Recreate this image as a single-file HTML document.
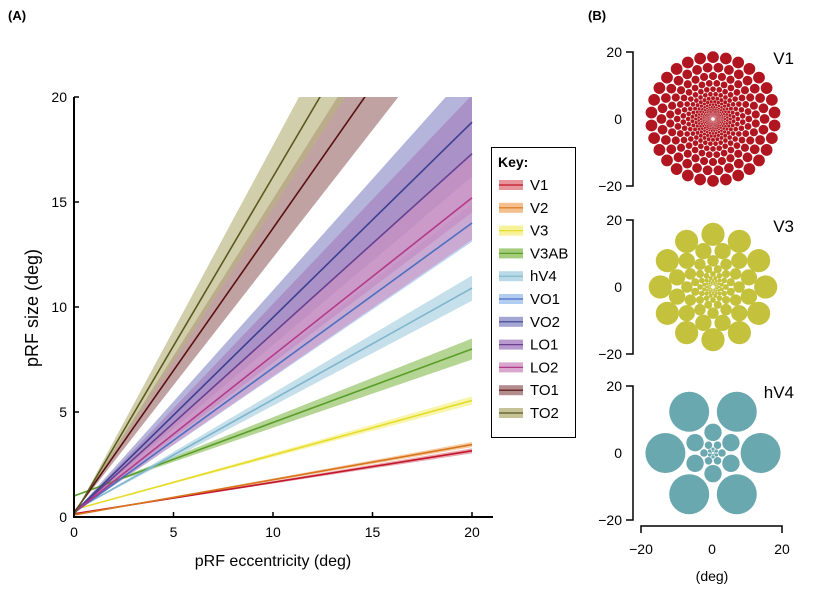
<!DOCTYPE html>
<html><head><meta charset="utf-8"><style>
body{margin:0;background:#fff;}
svg{display:block;font-family:"Liberation Sans","DejaVu Sans",sans-serif;}
</style></head><body>
<svg id="fig" width="818" height="600" viewBox="0 0 818 600">
<text x="8" y="20" font-size="13" font-weight="bold">(A)</text>
<text x="588" y="20" font-size="13" font-weight="bold">(B)</text>
<g id="bands"></g>
<g id="lines"></g>
<g id="axes"></g>
<g id="legend"></g>
<g id="mosaic"></g>
</svg>
<script>
const categories=["V1","V2","V3","V3AB","hV4","VO1","VO2","LO1","LO2","TO1","TO2"];
const intercepts=[0.15,0.1,0.35,1.0,0.3,0.2,0.2,0.2,0.2,0.2,0.1];
const valuesAt20=[3.15,3.45,5.55,8.0,10.9,14.0,18.8,17.3,15.2,27.3,32.3];
const bandHalfAt20=[0.12,0.12,0.2,0.5,0.6,0.9,2.6,2.8,2.0,2.8,3.0];
const lineColors=["#c0172a","#d9741e","#e5dc2c","#5a9e2a","#7fb5cc","#4b70c0","#3d3f8f","#6a3f8f","#b33a8a","#5a1010","#5a5a20"];
const bandColors=["#e07a85","#f0b070","#f4ef80","#8dbf5a","#a8d0e0","#9ec0ee","#8e8ec8","#a57fc0","#d090c0","#a07070","#b8b480"];
const xTicks=[0,5,10,15,20];
const yTicks=[0,5,10,15,20];
const NS="http://www.w3.org/2000/svg";
const X0=74,X1=472,Y0=517,Y1=97;
function xs(v){return X0+(X1-X0)*v/20;}
function ys(v){return Y0-(Y0-Y1)*v/20;}
function mk(tag,attrs,parent){const e=document.createElementNS(NS,tag);for(const k in attrs)e.setAttribute(k,attrs[k]);parent.appendChild(e);return e;}
const fig=document.getElementById('fig');
const defs=mk('defs',{},fig);
const cp=mk('clipPath',{id:'plotclip'},defs);
mk('rect',{x:X0,y:Y1,width:X1-X0+2,height:Y0-Y1},cp);
const bands=document.getElementById('bands'),lines=document.getElementById('lines');
bands.setAttribute('clip-path','url(#plotclip)');lines.setAttribute('clip-path','url(#plotclip)');
categories.forEach((c,i)=>{
  const b=intercepts[i],e=valuesAt20[i],h=bandHalfAt20[i];
  const p=mk('polygon',{points:`${xs(0)},${ys(b)} ${xs(20)},${ys(e+h)} ${xs(20)},${ys(e-h)}`,fill:bandColors[i],'fill-opacity':0.65},bands);
  
  
  const l=mk('line',{x1:xs(0),y1:ys(b),x2:xs(20),y2:ys(e),stroke:lineColors[i],'stroke-width':1.6},lines);
  
  
});
const ax=document.getElementById('axes');
mk('line',{x1:X0,y1:Y1,x2:X0,y2:Y0,stroke:'#000','stroke-width':2},ax);
mk('line',{x1:X0-1,y1:Y0,x2:493,y2:Y0,stroke:'#000','stroke-width':2},ax);
xTicks.forEach(t=>{
  mk('line',{x1:xs(t),y1:Y0,x2:xs(t),y2:Y0-5,stroke:'#000','stroke-width':1.5},ax);
  const tx=mk('text',{x:xs(t),y:Y0+20,'font-size':14,'text-anchor':'middle'},ax);tx.textContent=t;
  
  
});
yTicks.forEach(t=>{
  mk('line',{x1:X0,y1:ys(t),x2:X0+5,y2:ys(t),stroke:'#000','stroke-width':1.5},ax);
  const tx=mk('text',{x:X0-7,y:ys(t)+5,'font-size':14,'text-anchor':'end'},ax);tx.textContent=t;
  
  
});
let xt=mk('text',{x:273,y:566,'font-size':16,'text-anchor':'middle'},ax);xt.textContent='pRF eccentricity (deg)';


let yt=mk('text',{x:0,y:0,'font-size':18,'text-anchor':'middle',transform:'translate(38,308) rotate(-90)'},ax);yt.textContent='pRF size (deg)';


const lg=document.getElementById('legend');
mk('rect',{x:491.5,y:147.5,width:84,height:290,fill:'#fff',stroke:'#000','stroke-width':1},lg);
let kt=mk('text',{x:498,y:167,'font-size':14,'font-weight':'bold'},lg);kt.textContent='Key:';
categories.forEach((c,i)=>{
  const y=185+i*22.8;
  mk('rect',{x:499,y:y-5,width:24,height:10,fill:bandColors[i],'fill-opacity':0.8},lg);
  mk('line',{x1:499,y1:y,x2:523,y2:y,stroke:lineColors[i],'stroke-width':1.2},lg);
  const t=mk('text',{x:530,y:y+5,'font-size':15},lg);t.textContent=c;
  
  
});
const mo=document.getElementById('mosaic');
const S=3.4;
function mosaic(cx,cy,k,N,emin,emax,step,phase,color,name){
  const g=mk('g',{},mo);
  
  
  let e=emax,ring=0;
  while(e>emin){
    const r=k*e;
    for(let j=0;j<N;j++){
      const a=2*Math.PI*(j+((ring+phase)%2)*0.5)/N-Math.PI/2;
      mk('circle',{cx:cx+S*e*Math.cos(a),cy:cy+S*e*Math.sin(a),r:S*r,fill:color},g);
    }
    e=e/step;ring++;
  }
}
mosaic(713,119,0.095,30,0.5,18.2,1.2,0,'#b01520','mosaic-v1');
mosaic(713,287,0.22,12,0.5,15.5,1.42,0,'#c4c23c','mosaic-v3');
mosaic(713,453,0.42,6,0.4,14.0,2.3,1,'#6aa8b0','mosaic-hv4');
function vaxis(cy,label){
  const g=mk('g',{},mo);
  
  
  mk('polyline',{points:`626,${cy-67} 633,${cy-67} 633,${cy+67} 626,${cy+67}`,fill:'none',stroke:'#000','stroke-width':1.5},g);
  [[20,-67],[0,0],['\u221220',67]].forEach(([t,d])=>{const tx=mk('text',{x:622,y:cy+d+5,'font-size':14,'text-anchor':'end'},g);tx.textContent=t;});
  const l=mk('text',{x:794,y:cy-55,'font-size':17,'text-anchor':'end'},g);l.textContent=label;
}
vaxis(119,'V1');vaxis(287,'V3');vaxis(453,'hV4');
const xa=mk('g',{},mo);


mk('polyline',{points:'641,533 641,526 782,526 782,533',fill:'none',stroke:'#000','stroke-width':1.5},xa);
[['\u221220',641],['0',712],['20',782]].forEach(([t,x])=>{const tx=mk('text',{x:x,y:554,'font-size':14,'text-anchor':'middle'},xa);tx.textContent=t;});
const dg=mk('text',{x:712,y:581,'font-size':14,'text-anchor':'middle'},xa);dg.textContent='(deg)';
</script>
</body></html>
